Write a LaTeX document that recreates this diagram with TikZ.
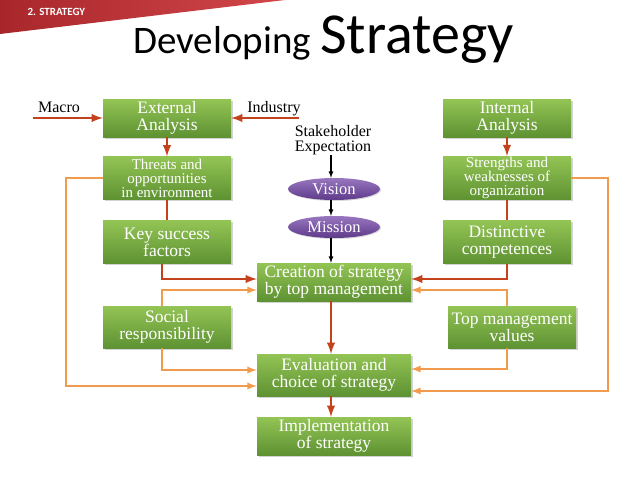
\documentclass[tikz,border=0pt]{standalone}
\usepackage{fontspec}
\setmainfont{Liberation Serif}
\newfontfamily\titlefont{Carlito}
\usetikzlibrary{calc}
\usetikzlibrary{arrows}
\usetikzlibrary{shapes.geometric}
\usetikzlibrary{shadows}
\definecolor{BoxTop}{HTML}{93C455}
\definecolor{BoxBottom}{HTML}{5E9232}
\definecolor{ArrowRed}{HTML}{C3421C}
\definecolor{LightOrange}{HTML}{F39B4C}
\definecolor{PurpleTop}{HTML}{9877BF}
\definecolor{PurpleBottom}{HTML}{5E3A8A}
\definecolor{BannerDark}{HTML}{A8262A}
\definecolor{BannerLight}{HTML}{D2474A}
\tikzset{
  greenbox/.style={draw=none, shading=axis, top color=BoxTop, bottom color=BoxBottom,
    drop shadow={shadow xshift=1.5pt, shadow yshift=-1.5pt, opacity=0.35},
    minimum width=128pt, minimum height=38pt, inner sep=1pt, align=center,
    text=white, font=\fontsize{17.5}{17}\selectfont},
  smallbox/.style={greenbox, minimum height=43pt, font=\fontsize{15}{14}\selectfont},
  midbox/.style={greenbox, minimum width=154pt},
  goalshape/.style={ellipse, shading=axis, top color=PurpleTop, bottom color=PurpleBottom,
    drop shadow={shadow xshift=1pt, shadow yshift=-1pt, opacity=0.3},
    minimum width=92pt, minimum height=22pt, inner sep=0pt,
    text=white, font=\fontsize{16.5}{16.5}\selectfont},
  redarrow/.style={line width=2.8pt, ArrowRed, -latex},
  redline/.style={line width=2.8pt, ArrowRed},
  orangearrow/.style={line width=2.2pt, LightOrange, -latex},
  blackarrow/.style={line width=1.2pt, black, -latex},
  plaintext/.style={align=center, inner sep=0pt, font=\fontsize{16}{15}\selectfont}
}

\begin{document}
\begin{tikzpicture}[x=1pt, y=-1pt]
  \useasboundingbox (0,0) rectangle (638,479);

  \shade[left color=BannerDark, right color=BannerLight] (0,0) -- (285,0) -- (0,34) -- cycle;
  \node[anchor=base west, text=white, font=\titlefont\bfseries\fontsize{11}{11}\selectfont]
    (banner) at (24,16) {2. STRATEGY};
  \node[anchor=base west, inner sep=0pt, font=\titlefont\fontsize{39}{39}\selectfont]
    (titleA) at (133,53) {Developing};
  \node[anchor=base west, inner sep=0pt, font=\titlefont\fontsize{58}{58}\selectfont]
    (titleB) at (320,53) {Strategy};

  \node[greenbox] (extern) at (167,118) {External\\Analysis};
  \node[smallbox] (threats) at (167,178) {Threats and\\opportunities\\in environment};
  \node[greenbox, minimum height=43pt] (keysucc) at (167,242) {Key success\\factors};
  \node[greenbox, minimum height=42pt] (social) at (167,327) {Social\\responsibility};

  \node[greenbox] (intern) at (507,118) {Internal\\Analysis};
  \node[smallbox] (strength) at (507,178) {Strengths and\\weaknesses of\\organization};
  \node[greenbox, minimum height=43pt] (distinct) at (507,242) {Distinctive\\competences};
  \node[greenbox, minimum height=42pt] (topmgmt) at (512,327) {Top management\\values};

  \node[midbox] (creation) at (334,282) {Creation of strategy\\by top management};
  \node[midbox, minimum height=42pt] (eval) at (334,375) {Evaluation and\\choice of strategy};
  \node[midbox] (impl) at (334,436) {Implementation\\of strategy};

  \node[plaintext] (stake) at (333,140) {Stakeholder\\Expectation};
  \node[goalshape] (vision) at (334,189) {Vision};
  \node[goalshape] (mission) at (334,227) {Mission};

  \node[plaintext, anchor=base] (macro) at (59,112) {Macro};
  \node[plaintext, anchor=base] (industry) at (274,112) {Industry};
  \coordinate (macroin) at (33,118);
  \coordinate (industryin) at (299,118);
  \coordinate (leftrail) at (66,0);
  \coordinate (rightrail) at (608,0);
  \coordinate (evalleft) at ([yshift=-11pt]eval.west);
  \coordinate (evalright) at ([yshift=-16pt]eval.east);

  \draw[redarrow] (macroin) -- (extern.west);
  \draw[redarrow] (industryin) -- (extern.east);
  \draw[redarrow] (extern.south) -- (threats.north);
  \draw[redarrow] (intern.south) -- (strength.north);
  \draw[redline] (threats.south) -- (keysucc.north);
  \draw[redline] (strength.south) -- (distinct.north);
  \draw[redarrow] ([xshift=-5pt]keysucc.south) |- ([yshift=3pt]creation.west);
  \draw[redarrow] (distinct.south) |- ([yshift=3pt]creation.east);
  \draw[redarrow] ([xshift=-3pt]creation.south) -- ([xshift=-3pt]eval.north);
  \draw[redarrow] ([xshift=-3pt]eval.south) -- ([xshift=-3pt]impl.north);

  \draw[blackarrow] ([xshift=-2pt]stake.south) -- ([xshift=-3pt]vision.north);
  \draw[blackarrow] ([xshift=-3pt]vision.south) -- ([xshift=-3pt]mission.north);
  \draw[blackarrow] ([xshift=-3pt]mission.south) -- ([xshift=-3pt]creation.north);

  \draw[orangearrow] ([xshift=-5pt]social.north) |- ([yshift=-8pt]creation.west);
  \draw[orangearrow] ([xshift=-5pt]social.south) |- ([yshift=5pt]eval.west);
  \draw[orangearrow] ([xshift=-5pt]topmgmt.north) |- ([yshift=-8pt]creation.east);
  \draw[orangearrow] ([xshift=-5pt]topmgmt.south) |- ([yshift=6pt]eval.east);
  \draw[orangearrow] (threats.west) -| (leftrail |- evalleft) -- (evalleft);
  \draw[orangearrow] (strength.east) -| (rightrail |- evalright) -- (evalright);
\end{tikzpicture}
\end{document}
